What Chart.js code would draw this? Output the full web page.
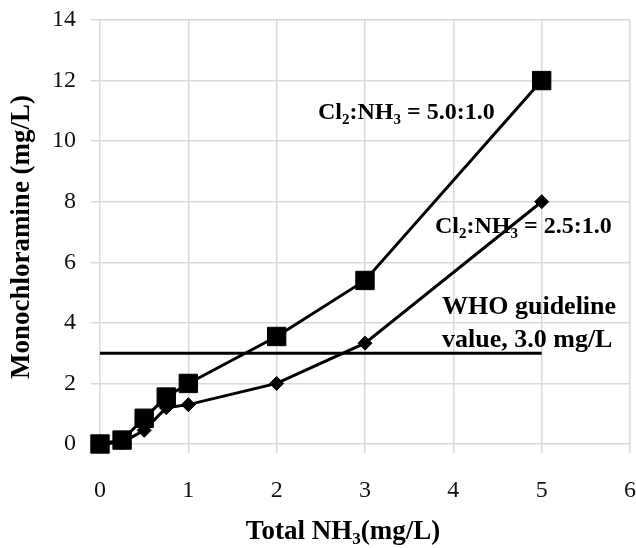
<!DOCTYPE html>
<html>
<head>
<meta charset="utf-8">
<script src="https://cdn.jsdelivr.net/npm/chart.js@4/dist/chart.umd.min.js"></script>
<style>
  body { margin: 0; background: #fff; }
  #chart { display: block; }
</style>
</head>
<body>
<canvas id="chart" width="636" height="548"></canvas>
<script>
// Total NH3 (mg/L) on the x axis
const nh3 = [0, 0.25, 0.5, 0.75, 1, 2, 3, 5];
// monochloramine (mg/L) for the two Cl2:NH3 ratios
const ratio50 = [0, 0.13, 0.85, 1.55, 2.0, 3.55, 5.4, 12.0];
const ratio25 = [0, 0.05, 0.45, 1.2, 1.3, 2.0, 3.33, 8.0];
// WHO guideline value
const guideX = [0, 5];
const guideY = [3, 3];

const serif = '"Liberation Serif", "Times New Roman", serif';
const gridColor = '#d9d9d9';

function toPoints(xs, ys) {
    return xs.map((x, i) => ({ x: x, y: ys[i] }));
}

// draw text with subscripts, parts = [[text, isSub], ...]
function drawRich(ctx, parts, x, y, size, align) {
    ctx.save();
    ctx.textBaseline = 'middle';
    ctx.textAlign = 'left';
    ctx.fillStyle = '#000';
    const subSize = Math.round(size * 0.62);
    let total = 0;
    parts.forEach(p => {
        ctx.font = 'bold ' + (p[1] ? subSize : size) + 'px ' + serif;
        total += ctx.measureText(p[0]).width;
    });
    let cx = align === 'center' ? x - total / 2 : x;
    parts.forEach(p => {
        ctx.font = 'bold ' + (p[1] ? subSize : size) + 'px ' + serif;
        ctx.fillText(p[0], cx, p[1] ? y + size * 0.3 : y);
        cx += ctx.measureText(p[0]).width;
    });
    ctx.restore();
}

const labelsPlugin = {
    id: 'labels',
    afterDatasetsDraw(chart) {
        const ctx = chart.ctx;
        drawRich(ctx, [['Cl'], ['2', 1], [':NH'], ['3', 1], [' = 5.0:1.0']], 318, 113, 24);
        drawRich(ctx, [['Cl'], ['2', 1], [':NH'], ['3', 1], [' = 2.5:1.0']], 435, 227, 24);
        drawRich(ctx, [['WHO guideline']], 442, 307, 26);
        drawRich(ctx, [['value, 3.0 mg/L']], 442, 340, 26);
        // axis titles
        drawRich(ctx, [['Total NH'], ['3', 1], ['(mg/L)']], 343, 532, 27, 'center');
        ctx.save();
        ctx.translate(22, 237);
        ctx.rotate(-Math.PI / 2);
        drawRich(ctx, [['Monochloramine (mg/L)']], 0, 0, 27, 'center');
        ctx.restore();
    }
};

const ctx = document.getElementById('chart').getContext('2d');
const chart = new Chart(ctx, {
    type: 'scatter',
    data: {
        datasets: [
            {
                label: 'Cl2:NH3 = 5.0:1.0',
                data: toPoints(nh3, ratio50),
                showLine: true,
                borderColor: '#000',
                backgroundColor: '#000',
                borderWidth: 3,
                pointStyle: 'rect',
                pointRadius: 13,
                pointBorderWidth: 1,
                clip: false
            },
            {
                label: 'Cl2:NH3 = 2.5:1.0',
                data: toPoints(nh3, ratio25),
                showLine: true,
                borderColor: '#000',
                backgroundColor: '#000',
                borderWidth: 3,
                pointStyle: 'rectRot',
                pointRadius: 7,
                pointBorderWidth: 1,
                clip: false
            },
            {
                label: 'WHO guideline',
                data: toPoints(guideX, guideY),
                showLine: true,
                borderColor: '#000',
                borderWidth: 3,
                pointRadius: 0,
                clip: false
            }
        ]
    },
    options: {
        responsive: false,
        animation: false,
        layout: { autoPadding: false, padding: { top: 20, right: 6, left: 0, bottom: 0 } },
        plugins: {
            legend: { display: false },
            tooltip: { enabled: false }
        },
        scales: {
            x: {
                type: 'linear',
                min: 0,
                max: 6,
                ticks: { stepSize: 1, color: '#111', padding: 23, font: { family: serif, size: 24 } },
                grid: { color: gridColor, lineWidth: 1.5, tickLength: 9 },
                border: { display: false },
                afterFit: s => { s.height = 104; s.paddingLeft = 0; s.paddingRight = 0; }
            },
            y: {
                min: 0,
                max: 14,
                ticks: { stepSize: 2, color: '#111', padding: 15, font: { family: serif, size: 24 } },
                grid: { color: gridColor, lineWidth: 1.5, tickLength: 9 },
                border: { display: false },
                afterFit: s => { s.width = 100; s.paddingTop = 0; s.paddingBottom = 0; }
            }
        }
    },
    plugins: [labelsPlugin]
});
</script>
</body>
</html>
